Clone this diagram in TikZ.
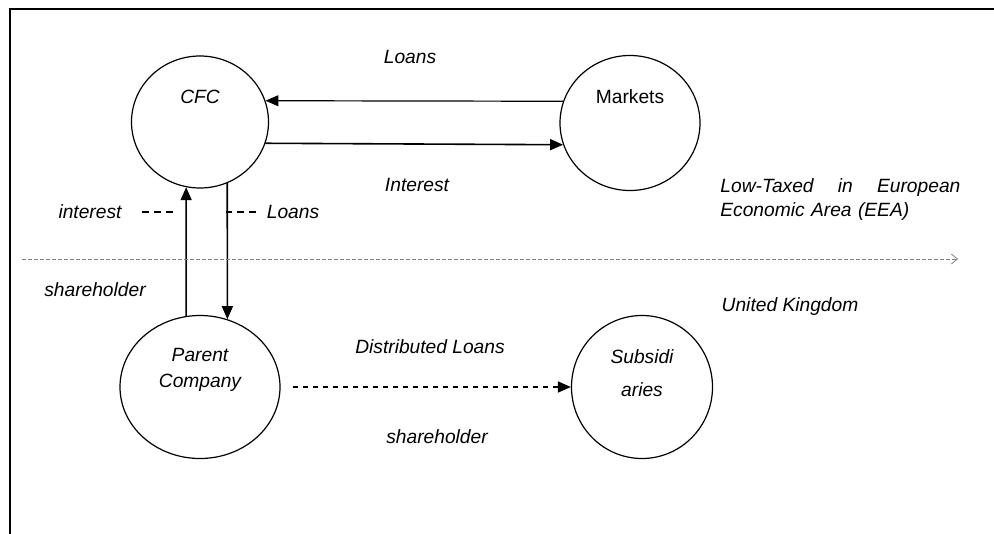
\documentclass[tikz,border=0pt]{standalone}
\usepackage{fontspec}
\setmainfont{Liberation Sans}
\usepackage[svgnames]{xcolor}
\usepackage{tikz}
\usetikzlibrary{shapes.geometric}
\usetikzlibrary{arrows.meta}

\begin{document}
\begin{tikzpicture}[
    x=0.5pt, y=-0.5pt,
    entity/.style={draw, ellipse, semithick, inner sep=0pt},
    lbl/.style={font=\fontsize{9.6}{12}\selectfont\itshape, inner sep=0pt},
    flow/.style={-{Triangle[length=6.5pt, width=5.5pt]}, thick},
    leader/.style={semithick, dash pattern=on 3.5pt off 2.5pt},
]
    \useasboundingbox (0,0) rectangle (994,534);

    % Frame
    \draw [thick] (10,534) -- (10,9) -- (994,9);

    % Entities
    \node (cfc) at (200,122) [entity, minimum width=68.5pt, minimum height=66pt] {};
    \node (mkt) at (630,123) [entity, minimum width=70pt, minimum height=67.5pt] {};
    \node (par) at (200,387) [entity, minimum width=80pt, minimum height=71.5pt] {};
    \node (sub) at (642,387) [entity, minimum width=70.5pt, minimum height=71.5pt] {};

    \node (cfctext) at (200,97) [lbl] {CFC};
    \node (mkttext) at (630,97) [lbl, font=\fontsize{9.6}{12}\selectfont] {Markets};
    \node (partext) at (200,370) [lbl, font=\fontsize{9.6}{13}\selectfont\itshape, align=center] {Parent\\Company};
    \node (subtext) at (642,373) [lbl, font=\fontsize{9.6}{16.5}\selectfont\itshape, align=center] {Subsidi\\aries};

    % CFC <-> Markets
    \draw [flow, semithick] (mkt.162) -- (cfc.18);
    \draw [flow] (cfc.-18) -- (mkt.-162);
    \node (loantop) at (410,57) [lbl] {Loans};
    \node (inttop) at (417,185) [lbl] {Interest};

    % CFC <-> Parent Company
    \draw [flow] (par.101) -- (cfc.-102);
    \draw [flow] (cfc.-66) -- (par.68);
    \node (intlbl) at (90,212) [lbl] {interest};
    \node (loanlbl) at (293,212) [lbl] {Loans};
    \draw [leader] ([xshift=10pt]intlbl.east) -- ++(35,0);
    \draw [leader] ([xshift=-5pt]loanlbl.west) -- ++(-30,0);

    % Border between EEA and UK
    \coordinate (borderW) at (22,259);
    \coordinate (borderE) at (958,259);
    \draw [Gray, thin, dash pattern=on 2pt off 1pt, -{Straight Barb[length=3pt, width=5pt]}] (borderW) -- (borderE);
    \node (eea) at (720,200) [lbl, anchor=west, text width=120pt, align=left] {Low-Taxed\hfill in\hfill European\\Economic Area (EEA)};
    \node (uk) at (790,307) [lbl] {United Kingdom};
    \node (sh1) at (95,290) [lbl] {shareholder};

    % Parent Company -> Subsidiaries
    \draw [flow, dash pattern=on 2.5pt off 2.5pt] ([xshift=6pt]par.east) -- (sub.west);
    \node (dist) at (430,347) [lbl] {Distributed Loans};
    \node (sh2) at (437,437) [lbl] {shareholder};
\end{tikzpicture}
\end{document}
